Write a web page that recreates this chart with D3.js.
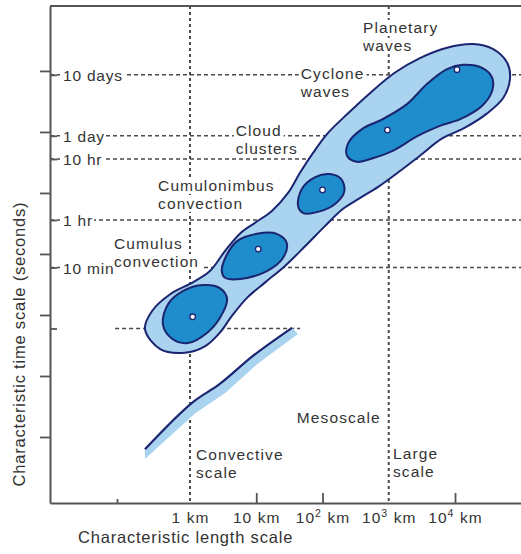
<!DOCTYPE html>
<html><head><meta charset="utf-8">
<script src="https://cdn.jsdelivr.net/npm/d3@7"></script>
<style>
body{margin:0;background:#fff}
svg{display:block}
text{font-family:"Liberation Sans",Arial,Helvetica,sans-serif;fill:#333}
</style>
</head><body><script>
// ---------- data ----------
const kmTicks = [1, 10, 100, 1000, 10000];
const kmTickBase = ["1", "10", "10", "10", "10"];
const kmTickSup = ["", "", "2", "3", "4"];
const kmTickDashed = [true, false, false, true, false];
const kmMinorTicks = [0.079];
const secDecadeTicks = [1, 10, 100, 1e3, 1e4, 1e5, 1e6];
const timeTickSec = [864000, 86400, 36000, 3600, 600, 60];
const timeTickLabels = ["10 days", "1 day", "10 hr", "1 hr", "10 min", ""];
const guideStartKm = [null, null, null, null, null, 0.074];
const guideEndKm = [null, null, null, null, null, 46];
const regimeKm = [1, 1000];

// outer envelope (log10 km, log10 s)
const outerLogKm = [-0.68,-0.57,-0.30,0.05,0.30,0.53,0.76,0.98,1.24,1.48,1.66,1.86,2.08,2.39,2.72,3.09,3.47,3.88,4.27,4.57,4.79,4.83,4.73,4.48,4.15,3.80,3.47,3.17,2.84,2.57,2.31,2.04,1.74,1.43,1.13,0.86,0.63,0.45,0.23,-0.08,-0.45];
const outerLogSec = [1.77,2.07,2.34,2.54,2.72,3.05,3.34,3.51,3.71,4.00,4.33,4.66,4.98,5.31,5.64,5.97,6.21,6.38,6.44,6.36,6.13,5.87,5.56,5.30,5.07,4.89,4.61,4.36,4.10,3.92,3.74,3.46,3.13,2.80,2.53,2.28,1.98,1.71,1.49,1.38,1.44];

// inner cores
const cumulusLogKm = [-0.41,-0.33,-0.11,0.20,0.45,0.56,0.45,0.26,-0.03,-0.27];
const cumulusLogSec = [1.85,2.18,2.39,2.49,2.44,2.26,1.95,1.71,1.54,1.61];
const cbLogKm = [0.48,0.53,0.71,1.01,1.31,1.46,1.40,1.16,0.76,0.53];
const cbLogSec = [2.72,2.93,3.21,3.33,3.33,3.18,2.93,2.72,2.59,2.61];
const clusterLogKm = [1.63,1.69,1.89,2.11,2.28,2.33,2.19,1.93,1.71];
const clusterLogSec = [3.79,4.07,4.26,4.31,4.23,4.03,3.82,3.69,3.67];
const synopticLogKm = [2.37,2.39,2.60,2.91,3.28,3.58,3.88,4.12,4.41,4.56,4.56,4.41,4.08,3.77,3.43,3.06,2.76,2.52];
const synopticLogSec = [4.61,4.82,5.05,5.21,5.46,5.79,6.03,6.10,6.05,5.89,5.67,5.43,5.21,5.10,4.93,4.69,4.57,4.51];

// phenomenon centres
const dotLogKm = [0.04, 1.03, 2.00, 2.98, 4.03];
const dotLogSec = [1.97, 3.08, 4.05, 5.03, 6.02];

// convective / mesoscale dividing line and its shaded band
const divLogKm = [-0.68, 0.03, 0.45, 0.95, 1.54];
const divLogSec = [-0.20, 0.56, 0.87, 1.33, 1.79];
const bandLogKm = [-0.68, 0.08, 0.53, 1.03, 1.63];
const bandLogSec = [-0.36, 0.39, 0.72, 1.21, 1.69];

// annotations
const labelLines = [["Planetary","waves"],["Cyclone","waves"],["Cloud","clusters"],["Cumulonimbus","convection"],["Cumulus","convection"],["Mesoscale"],["Convective","scale"],["Large","scale"]];
const labelKm = [408, 47, 4.9, 0.33, 0.0712, 41, 1.23, 1160];
const labelSec = [4.2e6, 7.4e5, 8.6e4, 1.08e4, 1200, 1.7, 0.42, 0.44];

const xTitle = "Characteristic length scale";
const yTitle = "Characteristic time scale (seconds)";

// ---------- style ----------
const W = 521, H = 554;
const lightFill = "#a9d3ee", darkFill = "#1f8dcc", navy = "#1b2470";
const axisCol = "#555", guideCol = "#4a4a4a";
const fs = 15.5, ls = 1.1, lineGap = 18;

const svg = d3.select("body").append("svg").attr("width", W).attr("height", H);

const x = d3.scaleLog().domain([0.0077, 1e5]).range([50, 521.25]);
const y = d3.scaleLog().domain([0.0828, 1.16e7]).range([503, 6]);
const [xL, xR] = x.range();
const [yB, yT] = y.range();

// layers
const gGuide = svg.append("g");
const gMarks = svg.append("g");
const gLabelBg = svg.append("g");
const gAxes = svg.append("g");
const gLabelText = svg.append("g");

// ---------- guide lines ----------
timeTickSec.forEach((s, i) => {
  const x0 = guideStartKm[i] == null ? xL : x(guideStartKm[i]);
  const x1 = guideEndKm[i] == null ? xR : x(guideEndKm[i]);
  gGuide.append("line").attr("x1", x0).attr("x2", x1).attr("y1", y(s)).attr("y2", y(s))
    .attr("stroke", guideCol).attr("stroke-width", 1.6).attr("stroke-dasharray", "4 3");
});
regimeKm.forEach(k => {
  gGuide.append("line").attr("x1", x(k)).attr("x2", x(k)).attr("y1", yT).attr("y2", yB)
    .attr("stroke", guideCol).attr("stroke-width", 2).attr("stroke-dasharray", "3 3");
});

// ---------- dividing band & line ----------
const P = (lk, lsv) => d3.zip(lk, lsv).map(([a, b]) => [x(10 ** a), y(10 ** b)]);
const divPts = P(divLogKm, divLogSec);
const bandPts = P(bandLogKm, bandLogSec);
gMarks.append("path").attr("d", d3.line().curve(d3.curveLinearClosed)(divPts.concat(bandPts.slice().reverse())))
  .attr("fill", lightFill);
gMarks.append("path").attr("d", d3.line().curve(d3.curveCatmullRom)(divPts))
  .attr("fill", "none").attr("stroke", navy).attr("stroke-width", 2.2);

// ---------- blobs ----------
const closed = d3.line().curve(d3.curveCatmullRomClosed.alpha(0.5));
gMarks.append("path").attr("d", closed(P(outerLogKm, outerLogSec)))
  .attr("fill", lightFill).attr("stroke", navy).attr("stroke-width", 2);
[[cumulusLogKm, cumulusLogSec],[cbLogKm, cbLogSec],[clusterLogKm, clusterLogSec],[synopticLogKm, synopticLogSec]]
  .forEach(([a, b]) => {
    gMarks.append("path").attr("d", closed(P(a, b)))
      .attr("fill", darkFill).attr("stroke", navy).attr("stroke-width", 2);
  });
gMarks.selectAll(".dot").data(P(dotLogKm, dotLogSec)).join("circle")
  .attr("cx", d => d[0]).attr("cy", d => d[1]).attr("r", 2.8)
  .attr("fill", "#fff").attr("stroke", navy).attr("stroke-width", 1.3);

// ---------- annotations (text on top layer, white backing per line) ----------
labelLines.forEach((lines, i) => {
  lines.forEach((s, j) => {
    const t = gLabelText.append("text").attr("font-size", fs).attr("letter-spacing", ls).attr("fill", "#333")
      .attr("x", x(labelKm[i])).attr("y", y(labelSec[i]) + j * lineGap).text(s);
    const b = t.node().getBBox();
    gLabelBg.append("rect").attr("x", b.x - 2).attr("y", b.y + 1).attr("width", b.width + 4)
      .attr("height", b.height - 1).attr("fill", "#fff");
  });
});

// ---------- axes ----------
const styleAxis = g => {
  g.attr("font-family", null).attr("font-size", null);
  g.selectAll("path.domain").attr("stroke", axisCol).attr("stroke-width", 2);
  g.selectAll(".tick line").attr("stroke", axisCol).attr("stroke-width", 1.8);
};
// frame top
gAxes.append("line").attr("x1", xL).attr("x2", xR).attr("y1", yT).attr("y2", yT)
  .attr("stroke", axisCol).attr("stroke-width", 2);

// x axis
const gx = gAxes.append("g").attr("transform", `translate(0,${yB})`)
  .call(d3.axisBottom(x).tickValues(kmTicks).tickSizeInner(-10).tickSizeOuter(0).tickFormat(""));
styleAxis(gx);
gx.selectAll(".tick line").attr("stroke", (d, i) => kmTickDashed[i] ? "none" : axisCol);
gx.selectAll(".tick text").remove();
gx.selectAll(".tick").each(function (d, i) {
  const t = d3.select(this).append("text").attr("y", 20).attr("text-anchor", "middle")
    .attr("font-size", fs).attr("letter-spacing", ls).attr("fill", "#333");
  t.append("tspan").text(kmTickBase[i]);
  if (kmTickSup[i]) t.append("tspan").attr("font-size", 10.5).attr("dy", -6).text(kmTickSup[i]);
  t.append("tspan").attr("dy", kmTickSup[i] ? 6 : 0).text(" km");
});
const gxm = gAxes.append("g").attr("transform", `translate(0,${yB})`)
  .call(d3.axisBottom(x).tickValues(kmMinorTicks).tickSizeInner(-4).tickSizeOuter(0).tickFormat(""));
styleAxis(gxm);
gxm.select("path.domain").remove();

// y axis: decade ticks outward
const gy = gAxes.append("g").attr("transform", `translate(${xL},0)`)
  .call(d3.axisLeft(y).tickValues(secDecadeTicks).tickSizeInner(10).tickSizeOuter(0).tickFormat(""));
styleAxis(gy);
// labelled ticks inward
const gy2 = gAxes.append("g").attr("transform", `translate(${xL},0)`)
  .call(d3.axisRight(y).tickValues(timeTickSec).tickSizeInner(7).tickSizeOuter(0).tickPadding(6)
    .tickFormat((d, i) => timeTickLabels[i]));
styleAxis(gy2);
gy2.select("path.domain").remove();
gy2.selectAll(".tick text").attr("font-size", fs).attr("letter-spacing", 0.8).attr("fill", "#333").attr("dy", "0.36em");
gy2.selectAll(".tick").each(function () {
  const t = d3.select(this).select("text");
  if (!t.text()) return;
  const b = t.node().getBBox();
  d3.select(this).insert("rect", "text").attr("x", b.x - 3).attr("y", b.y + 3).attr("width", b.width + 4)
    .attr("height", b.height - 6).attr("fill", "#fff");
});

// axis titles
gLabelText.append("text").attr("x", 78).attr("y", 543).attr("font-size", 16.5).attr("letter-spacing", 0.8)
  .attr("fill", "#333").text(xTitle);
gLabelText.append("text").attr("transform", "translate(25,344) rotate(-90)").attr("text-anchor", "middle")
  .attr("font-size", 16.5).attr("letter-spacing", 0.8).attr("fill", "#333").text(yTitle);
</script></body></html>
